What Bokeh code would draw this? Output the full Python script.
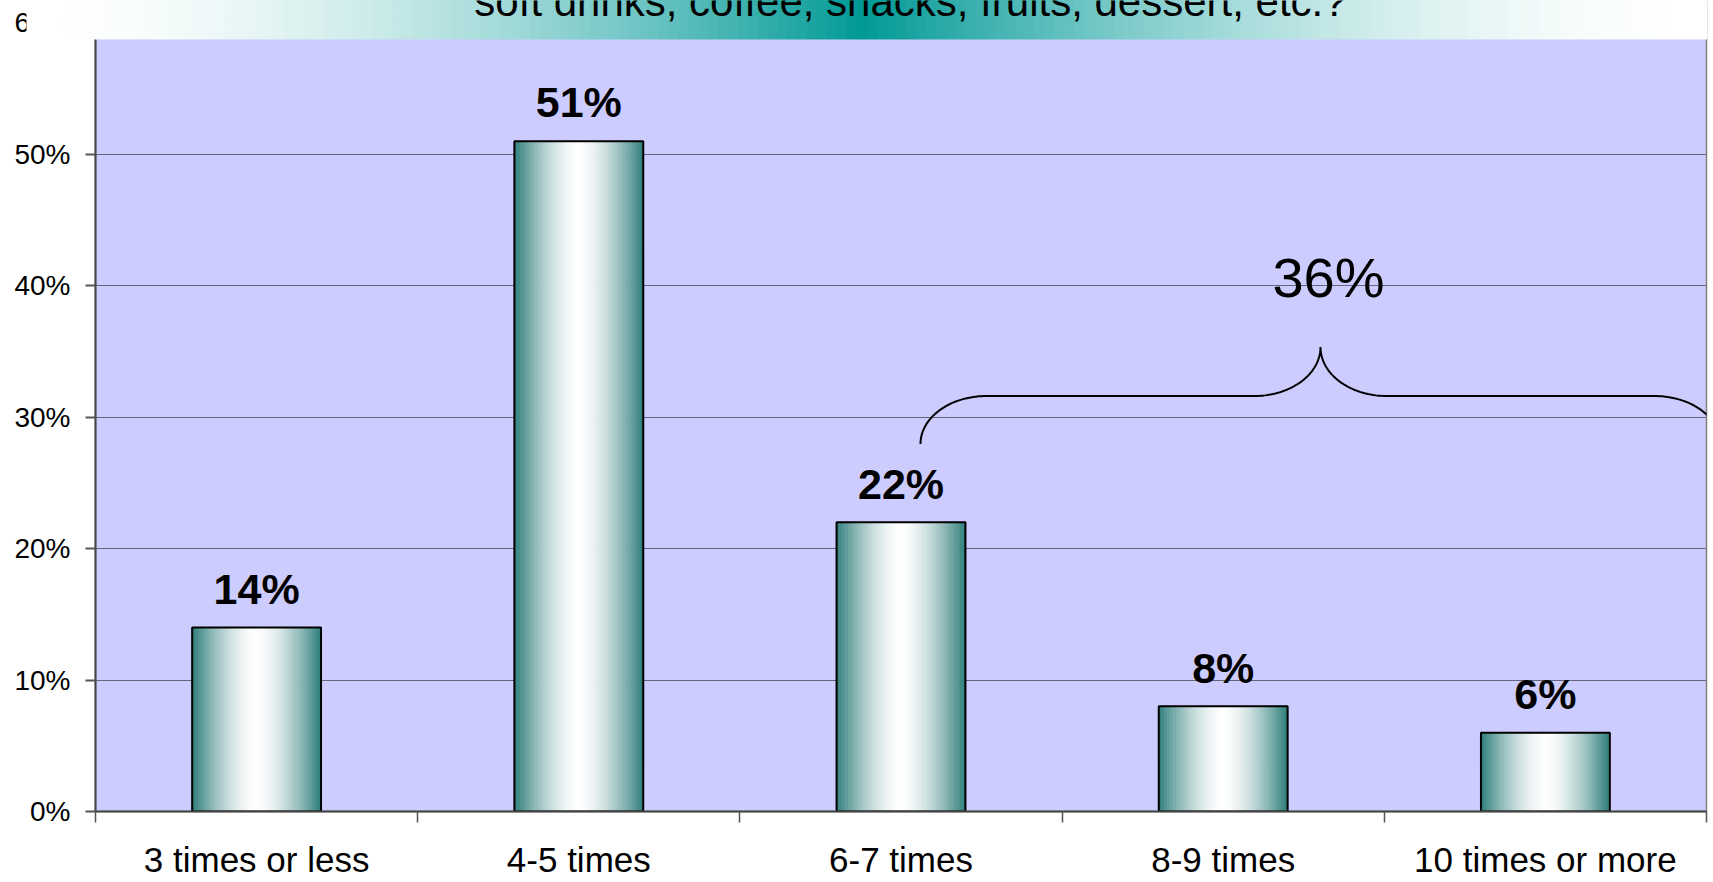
import numpy as np
from bokeh.plotting import figure
from bokeh.models import ColumnDataSource, Range1d, FixedTicker, PrintfTickFormatter, Label
from bokeh.transform import dodge
from bokeh.core.properties import value
from bokeh.embed import file_html
from bokeh.resources import INLINE

# ---------------- data ----------------
categories = ["3 times or less", "4-5 times", "6-7 times", "8-9 times", "10 times or more"]
values = [14, 51, 22, 8, 6]
y_ticks = [0, 10, 20, 30, 40, 50, 60]
title_text = "soft drinks, coffee, snacks, fruits, dessert, etc.?"
group_first = 2  # categories from "6-7 times" on are grouped by the brace

# ---------------- layout constants (pixels) ----------------
W, H = 1712, 881
FRAME_L, FRAME_R = 95, 1706
ZERO_PX, TOP_TICK_PX = 812, 22.4          # pixel rows of 0% and 60%
Y_MAX = 60
NCAT = len(categories)
Y_END = Y_MAX * ZERO_PX / (ZERO_PX - TOP_TICK_PX)   # frame reaches the canvas top
PPU = ZERO_PX / Y_END                                # pixels per percent
BASE_SHIFT = 0.345                                   # em from text anchor to drawn baseline


def px_to_x(px):
    return (px - FRAME_L) / (FRAME_R - FRAME_L) * NCAT


def py_to_y(py):
    return Y_END * (ZERO_PX - py) / ZERO_PX


def hexcol(rgb):
    r, g, b = [int(round(max(0, min(255, c)))) for c in rgb]
    return "#%02x%02x%02x" % (r, g, b)


WHITE = np.array([255.0, 255.0, 255.0])
BAR_TEAL = np.array([0x2C, 0x7D, 0x79], dtype=float)
BANNER_TEAL = np.array([0x00, 0x99, 0x96], dtype=float)
FONT = "Liberation Sans"

xpos = [i + 0.5 for i in range(NCAT)]
src = ColumnDataSource(dict(x=xpos, top=values, label=[f"{v}%" for v in values]))

p = figure(width=W, height=H, output_backend="svg", toolbar_location=None, title=None,
           x_range=Range1d(0, NCAT), y_range=Range1d(0, Y_END),
           min_border_left=FRAME_L, min_border_right=W - FRAME_R,
           min_border_top=0, min_border_bottom=H - ZERO_PX)
p.background_fill_color = "#CCCCFF"
p.border_fill_color = "white"
p.outline_line_color = "#808080"
p.outline_line_width = 1.5

# grid
p.xgrid.visible = False
p.ygrid.ticker = FixedTicker(ticks=y_ticks)
p.ygrid.grid_line_color = "#66667a"
p.ygrid.grid_line_width = 1

# y axis
p.yaxis.ticker = FixedTicker(ticks=y_ticks)
p.yaxis.formatter = PrintfTickFormatter(format="%d%%")
p.yaxis.minor_tick_line_color = None
p.yaxis.major_tick_in = 0
p.yaxis.major_tick_out = 10
p.yaxis.major_tick_line_color = "#555555"
p.yaxis.major_tick_line_width = 2
p.yaxis.axis_line_color = "#444444"
p.yaxis.axis_line_width = 2
p.yaxis.major_label_text_font = FONT
p.yaxis.major_label_text_font_size = "28px"
p.yaxis.major_label_text_color = "black"
p.yaxis.major_label_standoff = 15
p.yaxis.axis_label = None

# x axis: labels at category centres, tick marks at category boundaries
p.xaxis.ticker = FixedTicker(ticks=xpos, minor_ticks=list(range(NCAT + 1)))
p.xaxis.major_label_overrides = {x: c for x, c in zip(xpos, categories)}
p.xaxis.major_tick_line_color = None
p.xaxis.major_tick_in = 0
p.xaxis.major_tick_out = 0
p.xaxis.minor_tick_in = 0
p.xaxis.minor_tick_out = 11
p.xaxis.minor_tick_line_color = "#555555"
p.xaxis.minor_tick_line_width = 1.5
p.xaxis.axis_line_color = "#444444"
p.xaxis.axis_line_width = 2
p.xaxis.major_label_text_font = FONT
p.xaxis.major_label_text_font_size = "35px"
p.xaxis.major_label_text_color = "black"
p.xaxis.major_label_standoff = 17
p.xaxis.axis_label = None

# bars with horizontal teal-white-teal gradient (thin strips)
BW = 0.4
N = 44
for k in range(N):
    t = (k + 0.5) / N
    f = (abs(t - 0.5) / 0.5) ** 1.6
    col = hexcol(WHITE * (1 - f) + BAR_TEAL * f)
    off = -BW / 2 + t * BW
    p.vbar(x=dodge("x", off, range=p.x_range), top="top", width=BW / N * 1.15,
           bottom=0, source=src, fill_color=col, line_color=None)
p.vbar(x="x", top="top", width=BW, bottom=0, source=src,
       fill_color=None, line_color="black", line_width=2)

# value labels, baseline 24 px above each bar
VAL_FS = 43
p.text(x="x", y=dodge("top", (24 + BASE_SHIFT * VAL_FS) / PPU, range=p.y_range),
       text="label", source=src,
       text_align="center", text_baseline="alphabetic",
       text_font=value(FONT), text_font_style="bold", text_font_size=f"{VAL_FS}px",
       text_color="black")

# curly brace over the grouped categories (pixel geometry -> data units)
bx_left, by_end, by_flat, bx_peak, by_peak = 920, 444, 396, 1320, 347
hook_w, peak_w = 66, 66
t1 = np.linspace(np.pi, np.pi / 2, 40)
lx1 = bx_left + hook_w + hook_w * np.cos(t1)
ly1 = by_end - (by_end - by_flat) * np.sin(t1)
t2 = np.linspace(1.5 * np.pi, 2 * np.pi, 40)
lx2 = bx_peak - peak_w + peak_w * np.cos(t2)
ly2 = by_peak - (by_flat - by_peak) * np.sin(t2)
left_x = np.concatenate([lx1, lx2])
left_y = np.concatenate([ly1, ly2])
right_x = (2 * bx_peak - left_x)[::-1]
right_y = left_y[::-1]
p.line(px_to_x(np.concatenate([left_x, right_x])), py_to_y(np.concatenate([left_y, right_y])),
       line_color="black", line_width=2)

group_total = sum(values[group_first:])
GT_FS = 56
p.add_layout(Label(x=px_to_x(1328), y=py_to_y(297 - BASE_SHIFT * GT_FS), text=f"{group_total}%",
                   text_font=FONT, text_font_size=f"{GT_FS}px", text_color="black",
                   text_align="center", text_baseline="alphabetic"))

# title banner (gradient) over the top of the chart
b_left, b_right, b_mid, b_bottom = 26, 1706, 862, 39
nb = 170
edges = np.linspace(b_left, b_right, nb + 1)
cols = []
for i in range(nb):
    xc = 0.5 * (edges[i] + edges[i + 1])
    s = (xc - b_left) / (b_mid - b_left) if xc <= b_mid else (b_right - xc) / (b_right - b_mid)
    f = max(0.0, s) ** 1.8
    cols.append(hexcol(WHITE * (1 - f) + BANNER_TEAL * f))
p.quad(left=px_to_x(edges[:-1]), right=px_to_x(edges[1:] + 0.8),
       bottom=py_to_y(b_bottom), top=Y_END + 2, fill_color=cols, line_color=None,
       level="overlay")

TITLE_FS = 42
p.add_layout(Label(x=px_to_x(910), y=py_to_y(15 - BASE_SHIFT * TITLE_FS), text=title_text,
                   text_font=FONT, text_font_size=f"{TITLE_FS}px", text_color="black",
                   text_align="center", text_baseline="alphabetic", level="overlay"))

open("out.html", "w").write(file_html(p, INLINE))
